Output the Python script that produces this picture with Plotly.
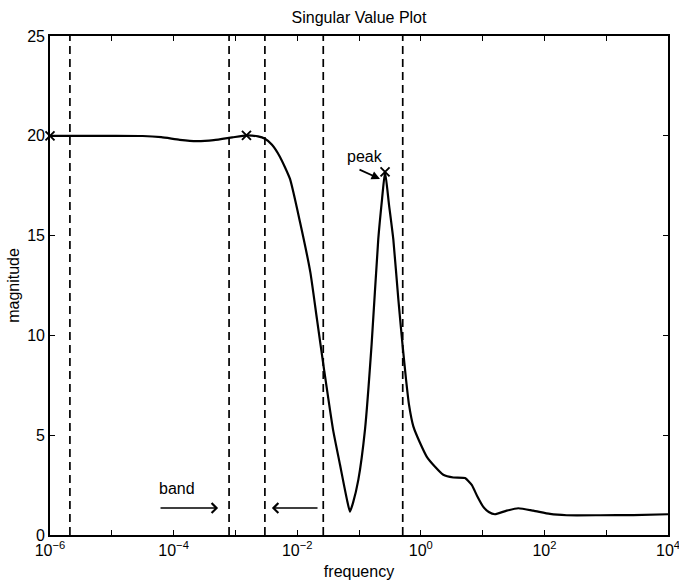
import plotly.graph_objects as go

# ---- data ----
freq = [1.0e-6, 3.16e-6, 1.0e-5, 3.16e-5, 6.31e-5, 1.26e-4, 2.34e-4, 4.47e-4, 8.91e-4,
        1.51e-3, 2.32e-3, 3.01e-3, 3.91e-3, 5.27e-3, 7.64e-3, 1.11e-2, 1.63e-2,
        2.09e-2, 2.72e-2, 3.80e-2, 4.93e-2, 5.71e-2, 6.40e-2, 7.14e-2, 8.0e-2, 9.75e-2,
        0.125, 0.160, 0.205, 0.236, 0.264, 0.305, 0.359, 0.433, 0.509, 0.577, 0.644,
        0.757, 0.970, 1.245, 1.70, 2.31, 3.36, 5.19, 6.67, 8.32, 10.2, 12.6, 15.8,
        24.5, 37.8, 66.1, 123, 229, 794, 2754, 10000]
magnitude = [20.0, 20.0, 20.0, 19.99, 19.93, 19.8, 19.73, 19.78, 19.92,
             20.02, 19.97, 19.85, 19.55, 18.94, 17.84, 15.68, 13.17,
             10.8, 8.29, 5.28, 3.52, 2.51, 1.76, 1.17, 1.61, 2.76,
             5.28, 9.55, 14.82, 16.83, 18.19, 16.58, 14.82, 11.81, 9.45, 7.79, 6.53,
             5.44, 4.62, 3.93, 3.42, 3.02, 2.88, 2.85, 2.51, 1.9, 1.42, 1.15, 1.04,
             1.22, 1.34, 1.22, 1.055, 0.99, 0.99, 1.0, 1.04]

mark_freq = [1.0e-6, 1.51e-3, 0.264]
mark_mag = [20.0, 20.02, 18.19]

band_lines = [2.1e-6, 7.9e-4, 3.0e-3, 2.64e-2, 0.51]

tick_exps = [-6, -5, -4, -3, -2, -1, 0, 1, 2, 3, 4]
tick_labels = ["10<sup>−6</sup>", "", "10<sup>−4</sup>", "", "10<sup>−2</sup>", "",
               "10<sup>0</sup>", "", "10<sup>2</sup>", "", "10<sup>4</sup>"]

FONT = "Liberation Sans, Arial, Helvetica, sans-serif"
FS = 16

fig = go.Figure()

for f in band_lines:
    fig.add_trace(go.Scatter(x=[f, f], y=[0, 25], mode="lines",
                             line=dict(color="black", width=1.7, dash="8px,5px"),
                             hoverinfo="skip", showlegend=False))

fig.add_trace(go.Scatter(x=freq, y=magnitude, mode="lines",
                         line=dict(color="black", width=2.2, shape="spline",
                                   smoothing=0.5),
                         showlegend=False))

fig.add_trace(go.Scatter(x=mark_freq, y=mark_mag, mode="markers",
                         marker=dict(symbol="x-thin", size=9,
                                     line=dict(color="black", width=1.9)),
                         showlegend=False, cliponaxis=False))

annotations = [
    dict(x=-0.903, y=18.94, text="peak", showarrow=False, xref="x", yref="y",
         font=dict(family=FONT, size=FS, color="black")),
    dict(x=-0.66, y=17.84, ax=-1.016, ay=18.34, axref="x", ayref="y",
         xref="x", yref="y", text="", showarrow=True, arrowhead=2,
         arrowsize=1, arrowwidth=1.7, arrowcolor="black"),
    dict(x=-3.945, y=2.31, text="band", showarrow=False, xref="x", yref="y",
         font=dict(family=FONT, size=FS, color="black")),
    dict(x=-3.28, y=1.35, ax=-4.236, ay=1.35, axref="x", ayref="y",
         xref="x", yref="y", text="", showarrow=True, arrowhead=4,
         arrowsize=1.2, arrowwidth=1.6, arrowcolor="black"),
    dict(x=-2.41, y=1.35, ax=-1.647, ay=1.35, axref="x", ayref="y",
         xref="x", yref="y", text="", showarrow=True, arrowhead=4,
         arrowsize=1.2, arrowwidth=1.6, arrowcolor="black"),
]

fig.update_layout(
    width=679, height=584,
    margin=dict(l=50, r=11, t=36, b=49),
    paper_bgcolor="white", plot_bgcolor="white",
    font=dict(family=FONT, size=FS, color="black"),
    title=dict(text="Singular Value Plot", x=(50 + 309) / 679, xanchor="center",
               y=1 - 17 / 584, yanchor="middle",
               font=dict(family=FONT, size=FS, color="black")),
    annotations=annotations,
    showlegend=False,
)

fig.update_xaxes(type="log", range=[-6, 4], automargin=False,
                 ticklabeloverflow="allow",
                 tickvals=[10 ** e for e in tick_exps], ticktext=tick_labels,
                 ticks="inside", ticklen=5, tickwidth=1.3, tickcolor="black",
                 showline=True, linecolor="black", linewidth=1.7, mirror="ticks",
                 showgrid=False, zeroline=False,
                 title=dict(text="frequency", standoff=8,
                            font=dict(family=FONT, size=FS)))
fig.update_yaxes(range=[0, 25], tickvals=[0, 5, 10, 15, 20, 25], automargin=False,
                 ticklabeloverflow="allow",
                 ticks="inside", ticklen=5, tickwidth=1.3, tickcolor="black",
                 showline=True, linecolor="black", linewidth=1.7, mirror="ticks",
                 showgrid=False, zeroline=False,
                 title=dict(text="magnitude", standoff=4,
                            font=dict(family=FONT, size=FS)))

fig.write_html("out.html")
